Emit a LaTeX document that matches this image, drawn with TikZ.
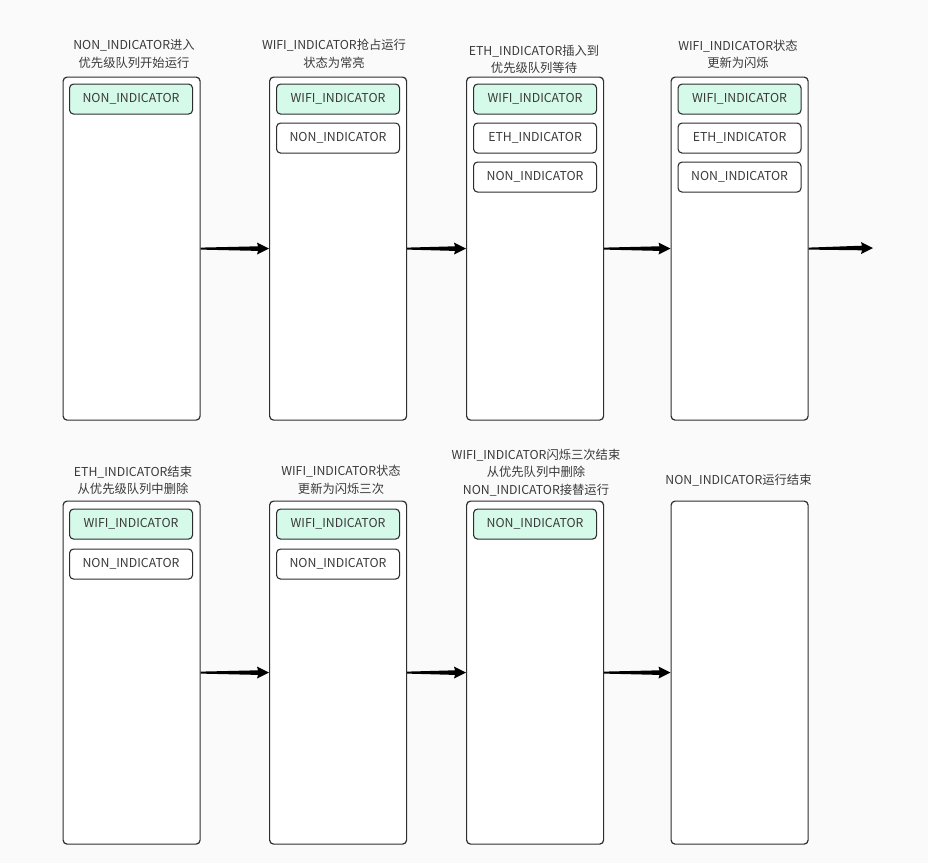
\documentclass[tikz,border=0pt]{standalone}
\usepackage{fontspec}
\setmainfont{Noto Sans CJK SC}
\usetikzlibrary{calc}
\definecolor{bg}{HTML}{FAFAFA}
\definecolor{edge}{HTML}{2E2E2E}
\definecolor{greenfill}{HTML}{D6FAEA}
\definecolor{txt}{HTML}{3A3A3A}
\tikzset{
  panel/.style={draw=edge, fill=white, line width=1.2pt, rounded corners=4pt,
    minimum width=137pt, minimum height=343pt, inner sep=0pt, anchor=north west},
  slot/.style={draw=edge, line width=1.1pt, rounded corners=4pt,
    minimum width=123pt, minimum height=30pt, inner sep=0pt, anchor=north west,
    font=\fontsize{12.3}{14}\selectfont, text=txt},
  active/.style={slot, fill=greenfill},
  idle/.style={slot, fill=white},
  caption/.style={align=center, font=\fontsize{12.3}{17.5}\selectfont, text=txt, inner sep=0pt},
  flow/.style={fill=black}
}
\newcommand\taperarrow[2]{%
  \fill[flow] ($(#1)+(0,-1)$) -- ($(#2)+(-11,-2.3)$) -- ($(#2)+(-12,-6)$) -- (#2)
    -- ($(#2)+(-12,6)$) -- ($(#2)+(-11,2.3)$) -- ($(#1)+(0,1)$) -- cycle;}
\begin{document}
\begin{tikzpicture}[x=1pt, y=-1pt]
\useasboundingbox (0,0) rectangle (928,863);
\fill[bg] (0,0) rectangle (928,863);

% row 1 panels
\node[panel] (p1) at (62.5,76.5) {};
\node[panel] (p2) at (269,76.5) {};
\node[panel] (p3) at (466,76.5) {};
\node[panel] (p4) at (670.5,76.5) {};
% row 2 panels
\node[panel] (p5) at (62.5,500.5) {};
\node[panel] (p6) at (269,500.5) {};
\node[panel] (p7) at (466,500.5) {};
\node[panel] (p8) at (670.5,500.5) {};

% captions row 1
\node[caption] (t1) at (134,54) {NON\_INDICATOR进入\\优先级队列开始运行};
\node[caption] (t2) at (334,54) {WIFI\_INDICATOR抢占运行\\状态为常亮};
\node[caption] (t3) at (534,59.5) {ETH\_INDICATOR插入到\\优先级队列等待};
\node[caption] (t4) at (738,54.5) {WIFI\_INDICATOR状态\\更新为闪烁};
% captions row 2
\node[caption] (t5) at (133,480.5) {ETH\_INDICATOR结束\\从优先级队列中删除};
\node[caption] (t6) at (341,480) {WIFI\_INDICATOR状态\\更新为闪烁三次};
\node[caption] (t7) at (536,472.5) {WIFI\_INDICATOR闪烁三次结束\\从优先队列中删除\\NON\_INDICATOR接替运行};
\node[caption] (t8) at (738.5,480.5) {NON\_INDICATOR运行结束};

% slots row 1
\node[active] (s11) at (69,83.5) {NON\_INDICATOR};
\node[active] (s21) at (276,83.5) {WIFI\_INDICATOR};
\node[idle]   (s22) at (276,122.5) {NON\_INDICATOR};
\node[active] (s31) at (473,83.5) {WIFI\_INDICATOR};
\node[idle]   (s32) at (473,122.5) {ETH\_INDICATOR};
\node[idle]   (s33) at (473,161.5) {NON\_INDICATOR};
\node[active] (s41) at (677.5,83.5) {WIFI\_INDICATOR};
\node[idle]   (s42) at (677.5,122.5) {ETH\_INDICATOR};
\node[idle]   (s43) at (677.5,161.5) {NON\_INDICATOR};
% slots row 2
\node[active] (s51) at (69,508.5) {WIFI\_INDICATOR};
\node[idle]   (s52) at (69,548.5) {NON\_INDICATOR};
\node[active] (s61) at (276,508.5) {WIFI\_INDICATOR};
\node[idle]   (s62) at (276,548.5) {NON\_INDICATOR};
\node[active] (s71) at (473,508.5) {NON\_INDICATOR};

% arrows
\coordinate (out) at (873,248);
\taperarrow{p1.east}{p2.west}
\taperarrow{p2.east}{p3.west}
\taperarrow{p3.east}{p4.west}
\taperarrow{p4.east}{out}
\taperarrow{p5.east}{p6.west}
\taperarrow{p6.east}{p7.west}
\taperarrow{p7.east}{p8.west}
\end{tikzpicture}
\end{document}
